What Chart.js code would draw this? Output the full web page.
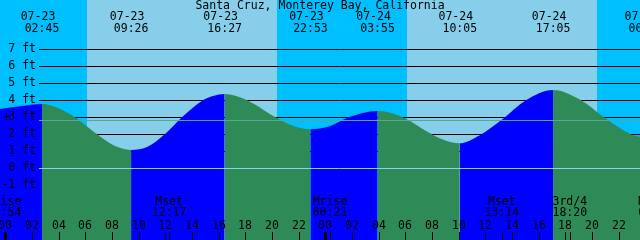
<!DOCTYPE html>
<html>
<head>
<meta charset="utf-8">
<title>Santa Cruz tides</title>
<script src="https://cdn.jsdelivr.net/npm/chart.js@4/dist/chart.umd.min.js"></script>
<style>
  body { margin: 0; background: #fff; }
  #tide-chart { display: block; }
</style>
</head>
<body>
<canvas id="tide-chart" width="640" height="240"></canvas>
<script>
// hours counted from 07-23 00:00, heights in feet
const tideHours = [-0.40, 1.10, 2.75, 3.95, 5.38, 6.88, 8.08, 9.43, 10.63, 11.98, 13.25, 14.83, 15.58, 16.45,
  18.05, 20.20, 21.58, 22.88, 24.33, 25.70, 27.92, 29.96, 31.55, 32.80, 34.08, 35.55, 37.30, 39.05, 41.08,
  43.18, 44.90, 46.91, 47.56, 48.03];
const tideFeet = [3.49, 3.65, 3.78, 3.55, 2.92, 2.00, 1.37, 1.08, 1.25, 2.02, 3.00, 4.00, 4.25, 4.37,
  4.03, 3.03, 2.50, 2.29, 2.47, 2.98, 3.37, 2.95, 2.20, 1.70, 1.47, 1.93, 2.90, 4.00, 4.60,
  4.00, 3.00, 2.00, 1.85, 1.80];

// high / low tide labels along the top
const tideDates = ['07-23', '07-23', '07-23', '07-23', '07-24', '07-24', '07-24', '07-25'];
const tideTimes = ['02:45', '09:26', '16:27', '22:53', '03:55', '10:05', '17:05', '00:02'];

// moon events along the bottom
const moonNames = ['Mrise', 'Mset', 'Mrise', 'Mset', '3rd/4', 'Mrise'];
const moonDates = ['07-22', '07-23', '07-24', '07-24', '07-24', '07-25'];
const moonTimes = ['23:54', '12:17', '00:21', '13:14', '18:20', '00:46'];

// daylight (sunrise -> sunset)
const sunriseDates = ['07-23', '07-24'];
const sunriseTimes = ['06:08', '06:08'];
const sunsetDates = ['07-23', '07-24'];
const sunsetTimes = ['20:23', '20:22'];

const yTicks = [7, 6, 5, 4, 3, 2, 1, 0, -1];
const hourLabels = ['00', '02', '04', '06', '08', '10', '12', '14', '16', '18', '20', '22'];
const meanSeaLevel = 2.84;

const TITLE = 'Santa Cruz, Monterey Bay, California';
const FONT = '11.5px "DejaVu Sans Mono", "Liberation Mono", monospace';

const NIGHT = '#00bfff';
const DAY = '#87ceeb';
const RISING = '#0000ff';
const FALLING = '#2e8b57';

function toHours(date, time) {
  var day = parseInt(date.split('-')[1]) - 23;
  var parts = time.split(':');
  return day * 24 + parseInt(parts[0]) + parseInt(parts[1]) / 60;
}

const tidePlugin = {
  id: 'tidePlugin',
  beforeDatasetsDraw(chart) {
    const ctx = chart.ctx;
    const x = chart.scales.x;
    const y = chart.scales.y;
    const area = chart.chartArea;

    // night everywhere, then paint the daylight spans
    ctx.save();
    ctx.fillStyle = NIGHT;
    ctx.fillRect(area.left, area.top, area.right - area.left, area.bottom - area.top);
    ctx.fillStyle = DAY;
    for (let i = 0; i < sunriseTimes.length; i++) {
      const x0 = Math.round(x.getPixelForValue(toHours(sunriseDates[i], sunriseTimes[i])));
      const x1 = Math.round(x.getPixelForValue(toHours(sunsetDates[i], sunsetTimes[i])));
      ctx.fillRect(x0, area.top, x1 - x0, area.bottom - area.top);
    }

    // black grid lines, they sit behind the water
    ctx.strokeStyle = '#000';
    ctx.lineWidth = 1;
    yTicks.forEach(v => {
      if (v <= 0) return;
      const py = Math.round(y.getPixelForValue(v)) + 0.5;
      ctx.beginPath();
      ctx.moveTo(39, py);
      ctx.lineTo(area.right, py);
      ctx.stroke();
    });
    ctx.restore();
  },
  afterDatasetsDraw(chart) {
    const ctx = chart.ctx;
    const x = chart.scales.x;
    const y = chart.scales.y;
    const area = chart.chartArea;
    ctx.save();

    // datum (0 ft) and mean sea level lines go over the fill
    let py = Math.round(y.getPixelForValue(0)) + 0.5;
    ctx.strokeStyle = '#8fd0f0';
    ctx.beginPath();
    ctx.moveTo(39, py);
    ctx.lineTo(area.right, py);
    ctx.stroke();

    py = Math.round(y.getPixelForValue(meanSeaLevel)) + 0.5;
    ctx.strokeStyle = '#5aa594';
    ctx.beginPath();
    ctx.moveTo(39, py);
    ctx.lineTo(area.right, py);
    ctx.stroke();

    ctx.font = FONT;
    ctx.fillStyle = '#000';
    ctx.textBaseline = 'middle';

    // title
    ctx.textAlign = 'center';
    ctx.fillText(TITLE, 320, 6);

    // y labels
    ctx.textAlign = 'right';
    yTicks.forEach(v => {
      ctx.fillText(v + ' ft', 36, y.getPixelForValue(v));
    });
    ctx.textAlign = 'left';
    ctx.fillText('+', 3, y.getPixelForValue(meanSeaLevel) - 2);

    // tide extremes at the top
    ctx.textAlign = 'center';
    for (let i = 0; i < tideTimes.length; i++) {
      const px = x.getPixelForValue(toHours(tideDates[i], tideTimes[i]));
      ctx.fillText(tideDates[i], px - 4, 17.5);
      ctx.fillText(tideTimes[i], px, 29.5);
    }

    // moon events near the bottom
    ctx.strokeStyle = '#000';
    ctx.lineWidth = 1;
    for (let i = 0; i < moonNames.length; i++) {
      const px = x.getPixelForValue(toHours(moonDates[i], moonTimes[i]));
      ctx.fillText(moonNames[i], px, 202);
      ctx.fillText(moonTimes[i], px, 213.5);
      ctx.beginPath();
      ctx.moveTo(Math.round(px) + 0.5, 232);
      ctx.lineTo(Math.round(px) + 0.5, 240);
      ctx.stroke();
    }

    // hour axis: labels every 2 hours, fat tick at midnight
    for (let d = 0; d < 2; d++) {
      hourLabels.forEach(lbl => {
        const h = d * 24 + parseInt(lbl);
        const px = Math.round(x.getPixelForValue(h));
        ctx.fillText(lbl, px, 226);
        if (h % 24 === 0) {
          ctx.fillRect(px - 1, 232, 3, 8);
        } else {
          ctx.fillRect(px, 232, 1, 8);
        }
      });
    }
    ctx.restore();
  }
};

const points = tideHours.map((h, i) => ({ x: h, y: tideFeet[i] }));

new Chart(document.getElementById('tide-chart'), {
  type: 'line',
  data: {
    datasets: [{
      data: points,
      borderWidth: 0,
      borderColor: 'rgba(0,0,0,0)',
      backgroundColor: RISING,
      pointRadius: 0,
      fill: 'start',
      cubicInterpolationMode: 'monotone',
      segment: {
        backgroundColor: ctx => ctx.p1.parsed.y >= ctx.p0.parsed.y ? RISING : FALLING
      }
    }]
  },
  options: {
    responsive: false,
    animation: false,
    devicePixelRatio: 1,
    layout: { padding: 0 },
    plugins: {
      legend: { display: false },
      tooltip: { enabled: false },
      title: { display: false }
    },
    scales: {
      x: { type: 'linear', min: -0.4, max: 47.6, display: false },
      y: { min: -4.22, max: 9.9, display: false }
    }
  },
  plugins: [tidePlugin]
});
</script>
</body>
</html>
